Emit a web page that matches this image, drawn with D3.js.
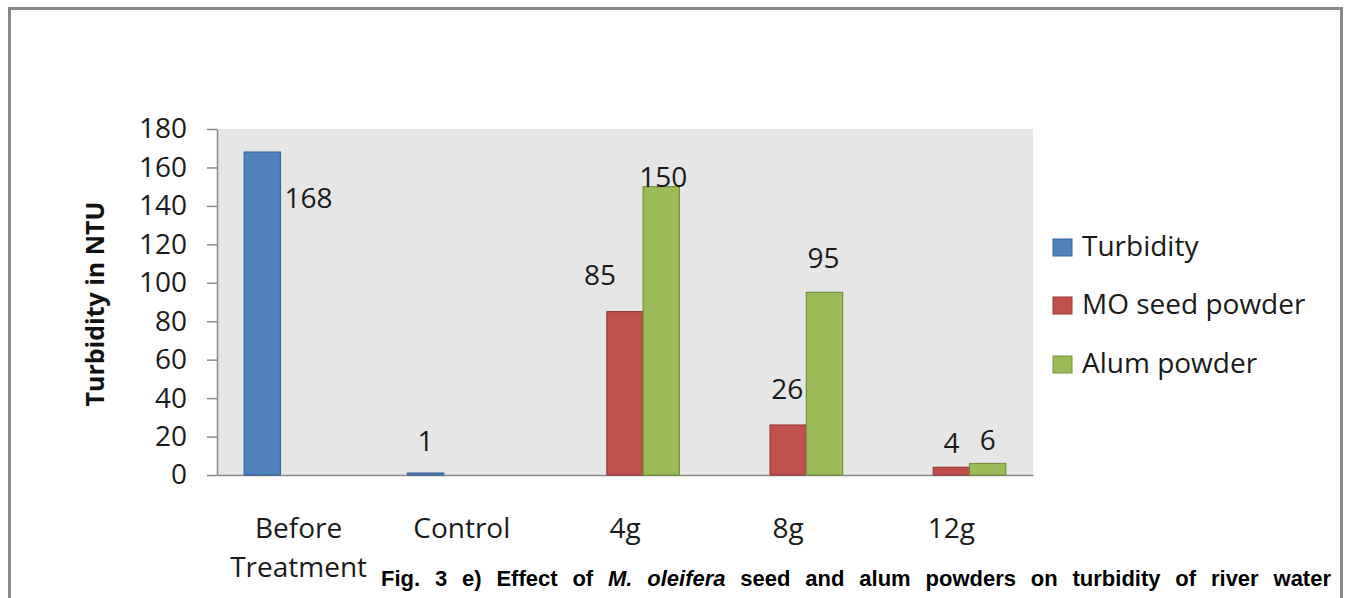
<!DOCTYPE html>
<html>
<head>
<meta charset="utf-8">
<script src="https://cdn.jsdelivr.net/npm/d3@7"></script>
<style>
  html, body { margin: 0; padding: 0; background: #ffffff; }
  svg { display: block; }
</style>
</head>
<body>
<svg id="chart" width="1349" height="598"></svg>
<script>
// ---- data ----
const categories = ["Before Treatment", "Control", "4g", "8g", "12g"];
const seriesNames = ["Turbidity", "MO seed powder", "Alum powder"];
const turbidity = [168, 1, null, null, null];
const moSeed = [null, null, 85, 26, 4];
const alum = [null, null, 150, 95, 6];
const yTicks = [0, 20, 40, 60, 80, 100, 120, 140, 160, 180];
const yTitle = "Turbidity in NTU";
const captionParts = [
  {t: "Fig.", i: false}, {t: "3", i: false}, {t: "e)", i: false}, {t: "Effect", i: false},
  {t: "of", i: false}, {t: "M.", i: true}, {t: "oleifera", i: true}, {t: "seed", i: false},
  {t: "and", i: false}, {t: "alum", i: false}, {t: "powders", i: false}, {t: "on", i: false},
  {t: "turbidity", i: false}, {t: "of", i: false}, {t: "river", i: false}, {t: "water", i: false}
];

// ---- style ----
const fills = ["#4F81BD", "#C0504D", "#9BBB59"];
const strokes = ["#3A6598", "#9A3B39", "#76923C"];
const FONT = "'Open Sans', sans-serif";

const svg = d3.select("#chart");

// outer frame
svg.append("rect").attr("x", 9.5).attr("y", 8.5).attr("width", 1332).attr("height", 620)
  .attr("fill", "#fff").attr("stroke", "#8a8a8a").attr("stroke-width", 3);

const plot = {left: 217, right: 1033, top: 129, bottom: 475};

// plot background
svg.append("rect").attr("x", plot.left).attr("y", plot.top)
  .attr("width", plot.right - plot.left).attr("height", plot.bottom - plot.top)
  .attr("fill", "#E6E6E6");

const x0 = d3.scaleBand().domain(categories).range([plot.left, plot.right]).paddingInner(0).paddingOuter(0);
// Excel gap width 150%: group = 3w, gaps = 1.5w -> outer pad each 0.75w
const barW = x0.bandwidth() / 4.5;
const x1b = d3.scaleBand().domain(seriesNames).range([0.75 * barW, 3.75 * barW]);
const y = d3.scaleLinear().domain([0, 180]).range([plot.bottom, plot.top]);

// y axis
const yAxis = d3.axisLeft(y).tickValues(yTicks).tickSize(10).tickPadding(20).tickSizeOuter(0);
const gy = svg.append("g").attr("transform", `translate(${plot.left},0)`).call(yAxis);
gy.select(".domain").attr("stroke", "#8a8a8a").attr("stroke-width", 1.5);
gy.selectAll(".tick line").attr("stroke", "#8a8a8a").attr("stroke-width", 1.5);
gy.selectAll(".tick text").attr("font-family", FONT).attr("font-size", 28).attr("fill", "#1a1a1a");

// x axis baseline
const xAxis = d3.axisBottom(x0).tickSize(0).tickSizeOuter(0).tickFormat("");
const gx = svg.append("g").attr("transform", `translate(0,${plot.bottom})`).call(xAxis);
gx.select(".domain").attr("stroke", "#8a8a8a").attr("stroke-width", 1.5);

// category labels
categories.forEach(c => {
  const words = c.split(" ");
  const t = svg.append("text").attr("x", x0(c) + x0.bandwidth() / 2).attr("y", 538)
    .attr("text-anchor", "middle").attr("font-family", FONT).attr("font-size", 28).attr("fill", "#1a1a1a");
  words.forEach((w, i) => {
    t.append("tspan").attr("x", x0(c) + x0.bandwidth() / 2).attr("dy", i === 0 ? 0 : 39).text(w);
  });
});

// bars
const series = [turbidity, moSeed, alum];
const labelNudge = {
  "Turbidity|Before Treatment": {anchor: "start", dx: 4, gap: -56},
  "MO seed powder|4g": {dx: -25, gap: 27},
  "Alum powder|4g": {dx: 2, gap: 0},
  "MO seed powder|8g": {dx: -1, gap: 26},
  "Alum powder|8g": {dx: -1, gap: 24},
  "MO seed powder|12g": {dx: 0, gap: 14},
  "Alum powder|12g": {dx: 0, gap: 13},
  "Turbidity|Control": {dx: 0, gap: 22}
};
series.forEach((vals, si) => {
  const name = seriesNames[si];
  const data = categories.map((c, i) => ({c, v: vals[i]})).filter(d => d.v !== null);
  const g = svg.append("g");
  g.selectAll("rect").data(data).join("rect")
    .attr("x", d => x0(d.c) + x1b(name))
    .attr("y", d => y(d.v))
    .attr("width", x1b.bandwidth())
    .attr("height", d => y(0) - y(d.v))
    .attr("fill", fills[si]).attr("stroke", strokes[si]).attr("stroke-width", 1.2);
  g.selectAll("text").data(data).join("text")
    .each(function(d) {
      const n = labelNudge[name + "|" + d.c] || {dx: 0, gap: 22};
      const cx = x0(d.c) + x1b(name) + x1b.bandwidth() / 2;
      const sel = d3.select(this);
      if (n.anchor === "start") {
        sel.attr("x", x0(d.c) + x1b(name) + x1b.bandwidth() + n.dx).attr("text-anchor", "start");
      } else {
        sel.attr("x", cx + n.dx).attr("text-anchor", "middle");
      }
      sel.attr("y", y(d.v) - n.gap);
    })
    .attr("font-family", FONT).attr("font-size", 28).attr("fill", "#1a1a1a")
    .text(d => d.v);
});

// y title
svg.append("text").attr("transform", "translate(104,304) rotate(-90)")
  .attr("text-anchor", "middle").attr("font-family", FONT).attr("font-weight", "bold")
  .attr("font-size", 25).attr("fill", "#111").text(yTitle);

// legend
const legendY = [239, 297, 356];
seriesNames.forEach((s, i) => {
  svg.append("rect").attr("x", 1053).attr("y", legendY[i]).attr("width", 19).attr("height", 17)
    .attr("fill", fills[i]).attr("stroke", strokes[i]).attr("stroke-width", 1);
  svg.append("text").attr("x", 1082).attr("y", legendY[i] + 17)
    .attr("font-family", FONT).attr("font-size", 28).attr("fill", "#1a1a1a").text(s);
});

// caption (justified)
const capStart = 381, capEnd = 1331, capBase = 586;
const capG = svg.append("g");
const nodes = captionParts.map(p => capG.append("text")
  .attr("y", capBase).attr("font-family", "'Liberation Sans', Arial, sans-serif")
  .attr("font-weight", "bold").attr("font-size", 22).attr("fill", "#000")
  .attr("font-style", p.i ? "italic" : "normal").text(p.t));
const widths = nodes.map(n => n.node().getComputedTextLength());
const total = d3.sum(widths);
const gap = (capEnd - capStart - total) / (nodes.length - 1);
let cx = capStart;
nodes.forEach((n, i) => { n.attr("x", cx); cx += widths[i] + gap; });
</script>
</body>
</html>
